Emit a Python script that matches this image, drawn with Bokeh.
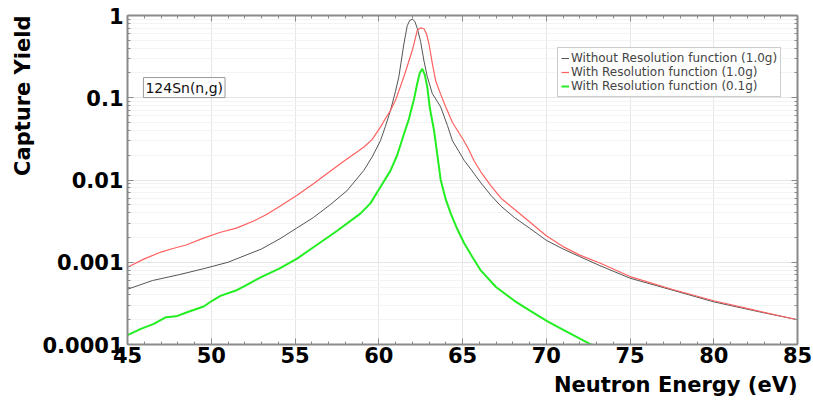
from bokeh.plotting import figure
from bokeh.models import (LogAxis, LinearAxis, FixedTicker, CustomJSTickFormatter,
                          Legend, LegendItem, Label, Title)
from bokeh.embed import file_html
from bokeh.resources import INLINE

# ---- data ----
e_black = [45.0, 46.5, 48.0, 49.5, 51.0, 53.0, 54.1, 55.1, 56.1, 57.1, 58.1, 59.1, 59.6,
           60.1, 60.4, 60.7, 61.0, 61.2, 61.5, 61.7, 61.85, 62.0, 62.15, 62.3, 62.5, 62.7,
           62.9, 63.2, 63.5, 63.7, 64.1, 64.4, 64.8, 65.1, 65.5, 66.1, 66.7, 67.3, 68.1,
           69.0, 70.0, 71.0, 72.0, 73.2, 75.0, 77.5, 80.0, 82.5, 85.0]
y_black = [4.7e-4, 6.0e-4, 7.0e-4, 8.3e-4, 1.0e-3, 1.45e-3, 1.93e-3, 2.6e-3, 3.5e-3,
           5.0e-3, 7.4e-3, 0.013, 0.019, 0.030, 0.045, 0.070, 0.12, 0.18, 0.45, 0.75,
           0.87, 0.90, 0.85, 0.70, 0.48, 0.28, 0.18, 0.112, 0.090, 0.077, 0.046, 0.030,
           0.022, 0.0173, 0.0135, 0.0092, 0.0065, 0.0048, 0.0035, 0.0026, 1.85e-3,
           1.45e-3, 1.17e-3, 9.1e-4, 6.4e-4, 4.6e-4, 3.3e-4, 2.55e-4, 2.0e-4]

e_red = [45.0, 46.0, 47.0, 47.6, 48.5, 49.5, 50.5, 51.5, 52.5, 53.3, 54.1, 55.1, 56.1,
         57.1, 58.1, 59.1, 59.6, 60.1, 60.4, 60.7, 61.0, 61.5, 62.0, 62.3, 62.5, 62.7,
         62.85, 63.0, 63.2, 63.4, 63.7, 64.0, 64.4, 64.7, 65.0, 65.3, 65.7, 66.1, 66.7,
         67.3, 68.1, 69.0, 70.0, 71.0, 72.0, 73.2, 75.0, 77.5, 80.0, 82.5, 85.0]
y_red = [8.7e-4, 1.1e-3, 1.33e-3, 1.45e-3, 1.62e-3, 1.95e-3, 2.3e-3, 2.6e-3, 3.15e-3,
         3.8e-3, 4.8e-3, 6.5e-3, 9.0e-3, 0.0128, 0.018, 0.025, 0.031, 0.044, 0.056,
         0.070, 0.093, 0.18, 0.375, 0.66, 0.71, 0.69, 0.60, 0.45, 0.26, 0.16, 0.11,
         0.077, 0.050, 0.040, 0.032, 0.025, 0.017, 0.0125, 0.0085, 0.0060, 0.0044,
         0.0031, 0.0021, 1.55e-3, 1.22e-3, 9.8e-4, 6.7e-4, 4.7e-4, 3.4e-4, 2.6e-4,
         2.0e-4]

e_green = [45.0, 45.8, 46.57, 47.3, 47.9, 48.56, 49.55, 50.05, 50.55, 51.55, 52.04,
           53.04, 54.03, 55.1, 56.1, 57.5, 58.9, 59.5, 60.1, 60.7, 61.1, 61.5, 61.8,
           62.1, 62.3, 62.45, 62.6, 62.75, 62.9, 63.05, 63.3, 63.7, 64.0, 64.3, 64.7,
           65.1, 65.6, 66.1, 67.0, 68.1, 69.0, 70.1, 71.3, 72.6, 73.2]
y_green = [1.3e-4, 1.55e-4, 1.78e-4, 2.15e-4, 2.2e-4, 2.47e-4, 2.9e-4, 3.4e-4, 3.9e-4,
           4.6e-4, 5.2e-4, 6.7e-4, 8.3e-4, 1.1e-3, 1.52e-3, 2.4e-3, 3.9e-3, 5.2e-3,
           8.2e-3, 0.013, 0.020, 0.036, 0.055, 0.095, 0.15, 0.20, 0.225, 0.19, 0.134,
           0.075, 0.040, 0.010, 0.0058, 0.0039, 0.0025, 1.7e-3, 1.15e-3, 7.9e-4,
           5.0e-4, 3.4e-4, 2.6e-4, 1.9e-4, 1.4e-4, 1.02e-4, 9.0e-5]

x_ticks = [45, 50, 55, 60, 65, 70, 75, 80, 85]
y_ticks = [1e-4, 1e-3, 1e-2, 1e-1, 1.0]
y_minor = [m * 10.0 ** k for k in range(-4, 0) for m in range(2, 10)]
x_minor = list(range(45, 86))

series_labels = ["Without Resolution function (1.0g)",
                 "With Resolution function (1.0g)",
                 "With Resolution function (0.1g)"]

FONT = "DejaVu Sans"

p = figure(width=813, height=401, x_range=(45, 85), y_range=(1e-4, 1.0),
           y_axis_type="log", output_backend="svg", toolbar_location=None,
           min_border_left=127, min_border_right=16, min_border_top=15,
           min_border_bottom=57, background_fill_color="white",
           border_fill_color="white", outline_line_color=None)

r_black = p.line(e_black, y_black, line_color="#555555", line_width=1)
r_red = p.line(e_red, y_red, line_color="#ff6060", line_width=1.2)
r_green = p.line(e_green, y_green, line_color="#22ee22", line_width=2)

xt = FixedTicker(ticks=x_ticks, minor_ticks=x_minor)
yt = FixedTicker(ticks=y_ticks, minor_ticks=y_minor)
fmt = CustomJSTickFormatter(code="return tick.toString();")
blank = CustomJSTickFormatter(code="return '';")


def style_axis(ax, labels=True):
    ax.axis_line_color = "#8a8a8a"
    ax.axis_line_width = 2
    ax.major_tick_line_color = "#8a8a8a"
    ax.minor_tick_line_color = "#8a8a8a"
    ax.major_tick_in = 6
    ax.major_tick_out = 0
    ax.minor_tick_in = 3
    ax.minor_tick_out = 0
    ax.major_label_text_font = FONT
    ax.major_label_text_font_style = "bold"
    ax.major_label_text_font_size = "21px"
    ax.major_label_text_color = "black"
    ax.major_label_standoff = 4
    if not labels:
        ax.formatter = blank
        ax.major_label_text_font_size = "0px"
        ax.major_label_standoff = 0


xa = p.xaxis[0]
xa.ticker = xt
style_axis(xa)
ya = p.yaxis[0]
ya.ticker = yt
ya.formatter = fmt
style_axis(ya)
xa.major_label_standoff = 2

top = LinearAxis(ticker=xt)
style_axis(top, labels=False)
p.add_layout(top, "above")
right = LogAxis(ticker=yt)
style_axis(right, labels=False)
p.add_layout(right, "right")

p.xgrid.ticker = xt
p.ygrid.ticker = yt
p.xgrid.grid_line_color = "#e6e6e6"
p.ygrid.grid_line_color = "#e6e6e6"
p.ygrid.minor_grid_line_color = "#f3f3f3"

p.add_layout(Title(text="Capture Yield", align="right", text_font=FONT,
                   text_font_style="bold", text_font_size="21px",
                   text_color="black", offset=0), "left")
p.add_layout(Title(text="Neutron Energy (eV)", align="right", text_font=FONT,
                   text_font_style="bold", text_font_size="21px",
                   text_color="black", offset=0), "below")

legend = Legend(items=[LegendItem(label=series_labels[0], renderers=[r_black]),
                       LegendItem(label=series_labels[1], renderers=[r_red]),
                       LegendItem(label=series_labels[2], renderers=[r_green])],
                location=(430, 247), label_text_font=FONT,
                label_text_font_size="12px", label_height=14, glyph_height=14,
                glyph_width=8, label_standoff=2, spacing=0, padding=3, margin=0,
                border_line_color="#999999", border_line_width=1,
                background_fill_color="white", background_fill_alpha=1.0)
p.add_layout(legend, "center")

p.add_layout(Label(x=45.95, y=0.133, text="124Sn(n,g)", text_font=FONT,
                   text_font_size="14px", text_color="#111111",
                   text_baseline="middle", text_align="left", padding=2,
                   border_line_color="#999999", background_fill_color="white"))

open("out.html", "w").write(file_html(p, INLINE))
